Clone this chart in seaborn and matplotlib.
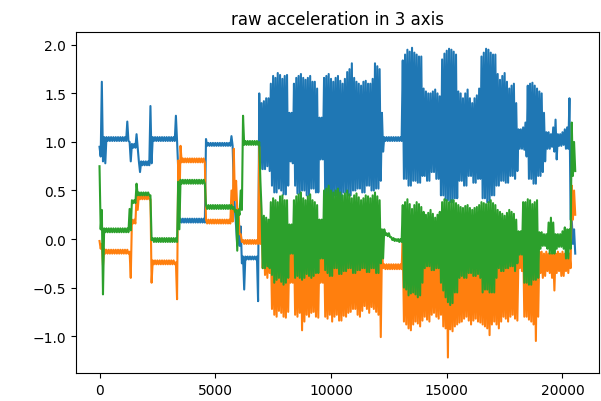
import numpy as np
import pandas as pd
import matplotlib
matplotlib.use("Agg")
import matplotlib.pyplot as plt
import seaborn as sns

# Readings every 100 samples: upper and lower value of each trace inside that
# 100-sample window (the upper reading sits at the window start, the lower one
# half a window later).
window = 100

x_upper = [
    0.95, 1.62, 1.05, 1.05, 1.05, 1.05, 1.05, 1.05, 1.05, 1.05,
    1.05, 1.05, 1.21, 1.00, 0.98, 0.98, 1.08, 0.80, 0.80, 0.80,
    0.80, 0.80, 1.37, 1.05, 1.05, 1.05, 1.05, 1.05, 1.05, 1.05,
    1.05, 1.05, 1.05, 1.27, 0.72, 0.21, 0.21, 0.21, 0.21, 0.21,
    0.21, 0.21, 0.21, 0.21, 0.21, 0.21, 1.03, 0.99, 0.99, 0.99,
    0.99, 0.99, 0.99, 0.99, 0.99, 0.99, 0.99, 1.06, 0.55, 0.13,
    0.13, 0.13, -0.18, -0.18, -0.18, -0.18, -0.18, -0.18, -0.18, 1.50,
    1.40, 1.42, 1.45, 1.45, 1.60, 1.68, 1.66, 1.71, 1.69, 1.65,
    1.68, 1.69, 1.30, 1.30, 1.60, 1.66, 1.68, 1.70, 1.66, 1.64,
    1.66, 1.68, 1.62, 1.62, 1.55, 1.25, 1.25, 1.66, 1.68, 1.70,
    1.65, 1.62, 1.66, 1.68, 1.63, 1.60, 1.65, 1.72, 1.75, 1.81,
    1.66, 1.62, 1.60, 1.58, 1.62, 1.63, 1.60, 1.60, 1.65, 1.81,
    1.78, 1.75, 1.30, 1.05, 1.05, 1.05, 1.05, 1.05, 1.05, 1.05,
    1.05, 1.84, 1.90, 1.95, 1.93, 1.97, 1.92, 1.90, 1.88, 1.88,
    1.55, 1.52, 1.50, 1.50, 1.52, 1.54, 1.50, 1.47, 1.85, 1.91,
    1.94, 1.96, 1.95, 1.93, 1.90, 1.52, 1.50, 1.45, 1.50, 1.54,
    1.45, 1.40, 1.45, 1.48, 1.55, 1.88, 1.92, 1.96, 1.95, 1.92,
    1.90, 1.90, 1.70, 1.64, 1.68, 1.71, 1.62, 1.55, 1.58, 1.60,
    1.40, 1.13, 1.13, 1.15, 1.20, 1.58, 1.60, 1.61, 1.58, 1.55,
    1.52, 1.50, 1.30, 1.10, 1.10, 1.08, 1.15, 1.23, 1.08, 1.08,
    1.10, 1.13, 1.15, 1.45, 0.20, 0.10,
]
x_lower = [
    0.85, 0.80, 0.78, 1.01, 1.01, 1.01, 1.01, 1.01, 1.01, 1.01,
    1.01, 1.01, 1.01, 0.80, 0.94, 0.94, 0.94, 0.69, 0.76, 0.76,
    0.76, 0.76, 0.78, 1.01, 1.01, 1.01, 1.01, 1.01, 1.01, 1.01,
    1.01, 1.01, 1.01, 1.01, 0.17, 0.17, 0.17, 0.17, 0.17, 0.17,
    0.17, 0.17, 0.17, 0.17, 0.17, 0.17, 0.96, 0.96, 0.96, 0.96,
    0.96, 0.96, 0.96, 0.96, 0.96, 0.96, 0.96, 0.96, 0.30, -0.07,
    -0.07, -0.25, -0.52, -0.21, -0.21, -0.21, -0.21, -0.21, -0.64, 0.72,
    0.72, 0.72, 0.75, 0.70, 0.55, 0.48, 0.48, 0.52, 0.50, 0.46,
    0.46, 0.55, 0.80, 0.78, 0.55, 0.47, 0.47, 0.50, 0.50, 0.45,
    0.45, 0.52, 0.52, 0.48, 0.48, 0.82, 0.82, 0.42, 0.42, 0.38,
    0.38, 0.45, 0.45, 0.40, 0.40, 0.48, 0.48, 0.45, 0.45, 0.50,
    0.50, 0.52, 0.52, 0.48, 0.48, 0.55, 0.55, 0.50, 0.50, 0.52,
    0.52, 0.60, 0.90, 1.01, 1.01, 1.01, 1.01, 1.01, 1.01, 1.01,
    1.01, 0.62, 0.62, 0.55, 0.55, 0.60, 0.60, 0.58, 0.58, 0.65,
    0.65, 0.60, 0.60, 0.69, 0.69, 0.62, 0.62, 0.45, 0.45, 0.40,
    0.40, 0.38, 0.38, 0.42, 0.42, 0.60, 0.60, 0.55, 0.55, 0.65,
    0.65, 0.58, 0.58, 0.62, 0.62, 0.42, 0.42, 0.38, 0.38, 0.45,
    0.45, 0.55, 0.55, 0.60, 0.60, 0.58, 0.58, 0.65, 0.65, 0.62,
    0.70, 0.93, 0.93, 0.92, 0.85, 0.62, 0.62, 0.57, 0.57, 0.65,
    0.65, 0.69, 0.80, 0.93, 0.93, 0.95, 0.90, 0.82, 0.96, 0.96,
    0.97, 0.93, 0.93, 0.20, -0.05, -0.15,
]

y_upper = [
    -0.02, -0.05, -0.10, -0.11, -0.11, -0.11, -0.11, -0.11, -0.11, -0.11,
    -0.11, -0.11, -0.11, -0.13, 0.20, 0.20, 0.45, 0.45, 0.45, 0.45,
    0.45, 0.45, 0.41, -0.22, -0.22, -0.22, -0.22, -0.22, -0.22, -0.22,
    -0.22, -0.22, -0.22, -0.24, 0.81, 0.96, 0.83, 0.83, 0.83, 0.83,
    0.83, 0.83, 0.83, 0.83, 0.83, 0.83, 0.20, 0.20, 0.20, 0.20,
    0.20, 0.20, 0.20, 0.20, 0.20, 0.20, 0.20, 0.50, 0.93, 0.60,
    0.31, 0.05, -0.01, -0.01, -0.01, -0.01, -0.01, -0.01, -0.01, 0.95,
    0.20, 0.00, -0.05, 0.00, -0.05, 0.00, -0.05, 0.00, -0.05, 0.00,
    -0.05, 0.00, -0.10, -0.10, 0.00, -0.05, 0.00, -0.05, 0.00, -0.05,
    0.00, -0.05, 0.00, -0.05, 0.00, -0.10, -0.10, 0.00, -0.05, 0.00,
    -0.05, 0.00, -0.05, 0.00, -0.05, 0.00, -0.05, 0.00, -0.05, 0.00,
    -0.05, 0.00, -0.05, 0.00, -0.05, 0.00, -0.05, 0.00, -0.05, 0.00,
    -0.05, -0.05, -0.10, -0.26, -0.26, -0.26, -0.26, -0.26, -0.26, -0.26,
    -0.26, 0.00, -0.05, 0.00, -0.05, 0.00, -0.05, 0.00, -0.05, 0.00,
    -0.05, 0.00, -0.05, 0.00, -0.05, 0.00, -0.05, 0.00, -0.05, 0.00,
    -0.05, 0.00, -0.05, 0.00, -0.05, 0.00, -0.05, 0.00, -0.05, 0.00,
    -0.05, 0.00, -0.05, 0.00, -0.05, 0.00, -0.05, 0.00, -0.05, 0.00,
    -0.05, 0.00, -0.05, 0.00, -0.05, 0.00, -0.05, 0.00, -0.05, 0.00,
    -0.05, -0.15, -0.15, 0.00, -0.05, 0.00, -0.05, 0.00, -0.05, 0.00,
    -0.13, -0.13, -0.15, -0.13, -0.15, -0.15, -0.15, -0.15, -0.13, -0.15,
    -0.13, -0.15, -0.15, -0.15, 0.55, 0.50,
]
y_lower = [
    -0.10, -0.27, -0.15, -0.15, -0.15, -0.15, -0.15, -0.15, -0.15, -0.15,
    -0.15, -0.15, -0.15, -0.40, 0.16, 0.16, 0.30, 0.41, 0.41, 0.41,
    0.41, 0.41, -0.45, -0.26, -0.26, -0.26, -0.26, -0.26, -0.26, -0.26,
    -0.26, -0.26, -0.26, -0.62, 0.30, 0.79, 0.79, 0.79, 0.79, 0.79,
    0.79, 0.79, 0.79, 0.79, 0.79, 0.79, 0.16, 0.16, 0.16, 0.16,
    0.16, 0.16, 0.16, 0.16, 0.16, 0.16, 0.16, 0.18, 0.40, 0.30,
    0.05, -0.03, -0.05, -0.05, -0.05, -0.05, -0.05, -0.05, -0.05, -0.05,
    -0.30, -0.37, -0.40, -0.35, -0.72, -0.78, -0.80, -0.74, -0.76, -0.80,
    -0.81, -0.75, -0.45, -0.45, -0.78, -0.80, -0.76, -0.94, -0.85, -0.78,
    -0.80, -0.76, -0.75, -0.80, -0.81, -0.45, -0.45, -0.80, -0.82, -0.78,
    -0.85, -0.80, -0.78, -0.84, -0.84, -0.79, -0.80, -0.76, -0.75, -0.72,
    -0.72, -0.78, -0.80, -0.74, -0.69, -0.72, -0.76, -0.70, -0.72, -0.75,
    -0.78, -1.01, -0.30, -0.31, -0.31, -0.31, -0.31, -0.31, -0.31, -0.31,
    -0.31, -0.85, -0.88, -0.92, -0.94, -0.88, -0.85, -0.87, -0.90, -0.84,
    -0.80, -0.83, -0.85, -0.78, -0.76, -0.80, -0.82, -0.78, -0.90, -0.92,
    -1.22, -0.93, -0.95, -0.90, -0.88, -0.86, -0.85, -0.82, -0.80, -0.84,
    -0.88, -0.84, -0.82, -0.85, -0.86, -0.88, -0.90, -0.92, -0.99, -0.88,
    -0.85, -0.88, -0.92, -0.85, -0.80, -0.82, -0.85, -0.80, -0.78, -0.82,
    -0.84, -0.30, -0.33, -0.80, -0.80, -0.83, -0.85, -0.88, -1.05, -0.80,
    -0.35, -0.40, -0.38, -0.33, -0.35, -0.40, -0.53, -0.35, -0.33, -0.38,
    -0.38, -0.33, -0.35, -0.30, 0.20, 0.25,
]

z_upper = [
    0.75, 0.30, 0.11, 0.11, 0.11, 0.11, 0.11, 0.11, 0.11, 0.11,
    0.11, 0.11, 0.11, 0.31, 0.40, 0.40, 0.57, 0.48, 0.48, 0.48,
    0.48, 0.48, 0.45, 0.01, 0.01, 0.01, 0.01, 0.01, 0.01, 0.01,
    0.01, 0.01, 0.01, 0.01, 0.59, 0.61, 0.61, 0.61, 0.61, 0.61,
    0.61, 0.61, 0.61, 0.61, 0.61, 0.61, 0.35, 0.35, 0.35, 0.35,
    0.35, 0.35, 0.35, 0.35, 0.35, 0.35, 0.35, 0.35, 0.33, 0.30,
    0.30, 0.50, 1.27, 1.01, 1.01, 1.01, 1.01, 1.01, 1.01, 1.00,
    0.30, 0.24, 0.22, 0.20, 0.38, 0.42, 0.40, 0.38, 0.44, 0.45,
    0.40, 0.40, 0.15, 0.15, 0.40, 0.44, 0.46, 0.48, 0.42, 0.40,
    0.44, 0.46, 0.40, 0.38, 0.35, 0.20, 0.20, 0.50, 0.52, 0.55,
    0.50, 0.48, 0.50, 0.52, 0.48, 0.45, 0.47, 0.50, 0.46, 0.42,
    0.45, 0.47, 0.43, 0.40, 0.42, 0.45, 0.44, 0.42, 0.45, 0.48,
    0.44, 0.40, 0.10, 0.10, 0.06, 0.06, 0.02, 0.01, 0.00, 0.00,
    0.00, 0.35, 0.38, 0.41, 0.36, 0.31, 0.35, 0.38, 0.36, 0.33,
    0.28, 0.25, 0.27, 0.30, 0.26, 0.22, 0.25, 0.28, 0.38, 0.41,
    0.40, 0.38, 0.40, 0.40, 0.37, 0.35, 0.33, 0.32, 0.34, 0.35,
    0.32, 0.30, 0.32, 0.33, 0.35, 0.38, 0.37, 0.36, 0.38, 0.40,
    0.37, 0.35, 0.30, 0.28, 0.26, 0.24, 0.27, 0.30, 0.28, 0.26,
    0.20, 0.08, 0.08, 0.38, 0.38, 0.41, 0.40, 0.36, 0.38, 0.40,
    0.07, 0.07, 0.05, 0.05, 0.17, 0.22, 0.17, 0.05, 0.05, 0.05,
    0.08, 0.12, 0.10, 0.10, 1.20, 1.00,
]
z_lower = [
    0.10, -0.57, 0.07, 0.07, 0.07, 0.07, 0.07, 0.07, 0.07, 0.07,
    0.07, 0.07, 0.07, 0.09, 0.37, 0.37, 0.45, 0.45, 0.45, 0.45,
    0.45, 0.45, -0.01, -0.03, -0.03, -0.03, -0.03, -0.03, -0.03, -0.03,
    -0.03, -0.03, -0.03, -0.03, 0.10, 0.57, 0.57, 0.57, 0.57, 0.57,
    0.57, 0.57, 0.57, 0.57, 0.57, 0.57, 0.31, 0.31, 0.31, 0.31,
    0.31, 0.31, 0.31, 0.31, 0.31, 0.31, 0.31, 0.31, 0.28, -0.12,
    0.25, 0.30, 0.97, 0.97, 0.97, 0.97, 0.97, 0.97, 0.97, 0.60,
    -0.30, -0.30, -0.28, -0.30, -0.37, -0.45, -0.42, -0.40, -0.44, -0.47,
    -0.45, -0.40, -0.15, -0.15, -0.40, -0.38, -0.40, -0.42, -0.40, -0.36,
    -0.38, -0.40, -0.38, -0.35, -0.35, -0.20, -0.20, -0.32, -0.35, -0.38,
    -0.38, -0.30, -0.30, -0.36, -0.36, -0.33, -0.33, -0.30, -0.30, -0.35,
    -0.35, -0.32, -0.32, -0.30, -0.30, -0.34, -0.34, -0.30, -0.30, -0.35,
    -0.35, -0.25, -0.20, 0.04, 0.03, 0.02, -0.01, -0.02, -0.02, -0.03,
    -0.03, -0.50, -0.52, -0.58, -0.56, -0.55, -0.57, -0.60, -0.58, -0.45,
    -0.30, -0.28, -0.28, -0.32, -0.32, -0.30, -0.30, -0.45, -0.53, -0.60,
    -0.65, -0.68, -0.66, -0.55, -0.55, -0.40, -0.38, -0.40, -0.40, -0.35,
    -0.35, -0.38, -0.38, -0.36, -0.40, -0.55, -0.52, -0.52, -0.55, -0.55,
    -0.55, -0.40, -0.30, -0.33, -0.33, -0.30, -0.30, -0.28, -0.28, -0.33,
    -0.25, -0.16, -0.16, -0.45, -0.45, -0.47, -0.47, -0.42, -0.42, -0.40,
    -0.10, -0.07, -0.07, -0.10, -0.15, -0.15, -0.15, -0.10, -0.08, -0.08,
    -0.10, -0.20, -0.20, -0.10, 0.65, 0.70,
]

axis_names = ["x", "y", "z"]
colors = ["#1f77b4", "#ff7f0e", "#2ca02c"]
title = "raw acceleration in 3 axis"

frames = []
for name, up, lo in zip(axis_names,
                        [x_upper, y_upper, z_upper],
                        [x_lower, y_lower, z_lower]):
    vals = np.column_stack([up, lo]).ravel()
    frames.append(pd.DataFrame({
        "sample": np.arange(len(vals)) * (window // 2),
        "acc": vals,
        "axis": name,
    }))
df = pd.concat(frames, ignore_index=True)

fig = plt.figure(figsize=(6.01, 4.02), dpi=100)
ax = fig.add_axes([0.126, 0.0697, 0.8707, 0.8475])
for name, col in zip(axis_names, colors):
    sub = df[df["axis"] == name]
    sns.lineplot(data=sub, x="sample", y="acc", ax=ax, color=col,
                 linewidth=1.5, sort=False, estimator=None)
ax.set_xlabel("")
ax.set_ylabel("")
ax.set_title(title, fontsize=12)
ax.set_xticks([0, 5000, 10000, 15000, 20000])
ax.set_yticks([-1.0, -0.5, 0.0, 0.5, 1.0, 1.5, 2.0])
fig.savefig("out.png", dpi=100)
